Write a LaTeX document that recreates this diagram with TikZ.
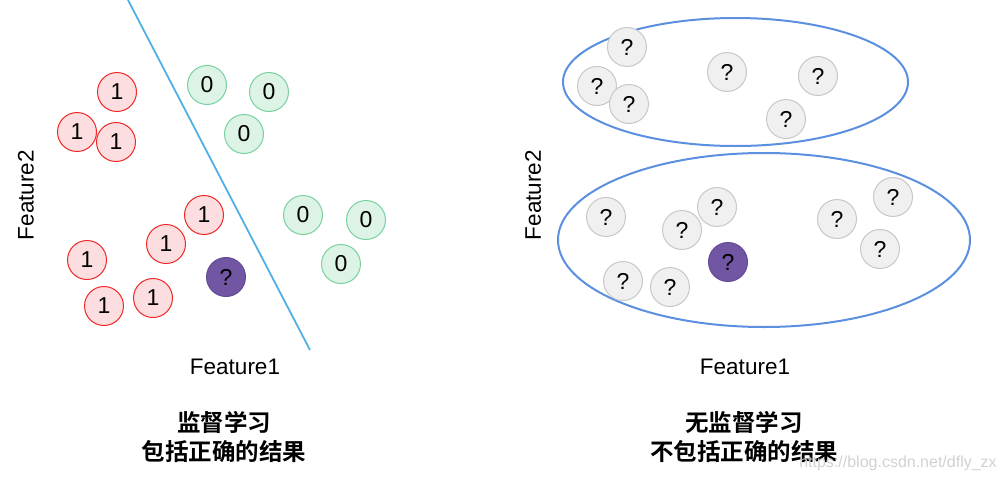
\documentclass[tikz,border=0pt]{standalone}
\usepackage{fontspec}
\setmainfont{Liberation Sans}
\newfontfamily\cjk{Noto Sans CJK SC}[BoldFont={* Bold}]
\definecolor{sepline}{RGB}{80,176,230}
\definecolor{oneline}{RGB}{240,40,40}
\definecolor{onefill}{RGB}{252,221,224}
\definecolor{zeroline}{RGB}{120,210,160}
\definecolor{zerofill}{RGB}{221,243,230}
\definecolor{unkline}{RGB}{200,200,200}
\definecolor{unkfill}{RGB}{240,240,240}
\definecolor{tgtline}{RGB}{100,75,150}
\definecolor{tgtfill}{RGB}{113,86,163}
\definecolor{clusline}{RGB}{91,143,223}
\begin{document}
\begin{tikzpicture}[x=1pt,y=-1pt,
  pt/.style={circle,minimum size=39pt,inner sep=0pt,font=\fontsize{23}{25}\selectfont,line width=1pt},
  one/.style={pt,draw=oneline,fill=onefill},
  zero/.style={pt,draw=zeroline,fill=zerofill},
  unk/.style={pt,draw=unkline,fill=unkfill},
  tgt/.style={pt,draw=tgtline,fill=tgtfill},
  lbl/.style={font=\fontsize{22.5}{24}\selectfont},
  ttl/.style={font=\cjk\bfseries\fontsize{23.5}{29}\selectfont,align=center},
  clus/.style={draw=clusline,line width=2pt}]
\useasboundingbox (0,0) rectangle (1004,482);
% ---- left: supervised ----
\coordinate (lt) at (128,0);
\coordinate (lb) at (310,350);
\draw[sepline,line width=1.8pt] (lt) -- (lb);
\node[one] (a1) at (117,92) {1};
\node[one] (a2) at (77,132) {1};
\node[one] (a3) at (116,142) {1};
\node[one] (a4) at (204,215) {1};
\node[one] (a5) at (166,244) {1};
\node[one] (a6) at (87,260) {1};
\node[one] (a7) at (104,306) {1};
\node[one] (a8) at (153,298) {1};
\node[zero] (b1) at (207,85) {0};
\node[zero] (b2) at (269,92) {0};
\node[zero] (b3) at (244,134) {0};
\node[zero] (b4) at (303,215) {0};
\node[zero] (b5) at (366,220) {0};
\node[zero] (b6) at (341,264) {0};
\node[tgt] (q1) at (226,277) {?};
\node[lbl,rotate=90] (f2a) at (26,195) {Feature2};
\node[lbl] (f1a) at (235,367) {Feature1};
\node[ttl] (t1) at (224,437) {监督学习\\包括正确的结果};
% ---- right: unsupervised ----
\draw[clus] (735.5,82) ellipse [x radius=172.5,y radius=64];
\draw[clus] (764,240) ellipse [x radius=206,y radius=87];
\node[unk] (c1) at (627,47) {?};
\node[unk] (c2) at (597,86) {?};
\node[unk] (c3) at (629,104) {?};
\node[unk] (c4) at (727,72) {?};
\node[unk] (c5) at (818,76) {?};
\node[unk] (c6) at (786,119) {?};
\node[unk] (d1) at (606,217) {?};
\node[unk] (d2) at (717,207) {?};
\node[unk] (d3) at (682,230) {?};
\node[unk] (d4) at (623,281) {?};
\node[unk] (d5) at (670,287) {?};
\node[unk] (d6) at (837,219) {?};
\node[unk] (d7) at (893,197) {?};
\node[unk] (d8) at (880,249) {?};
\node[tgt] (q2) at (728,262) {?};
\node[lbl,rotate=90] (f2b) at (533,195) {Feature2};
\node[lbl] (f1b) at (745,367) {Feature1};
\node[ttl] (t2) at (744,437) {无监督学习\\不包括正确的结果};
\node[font=\fontsize{16}{18}\selectfont,text=black!18] (wm) at (898,463) {https://blog.csdn.net/dfly\_zx};
\end{tikzpicture}
\end{document}
